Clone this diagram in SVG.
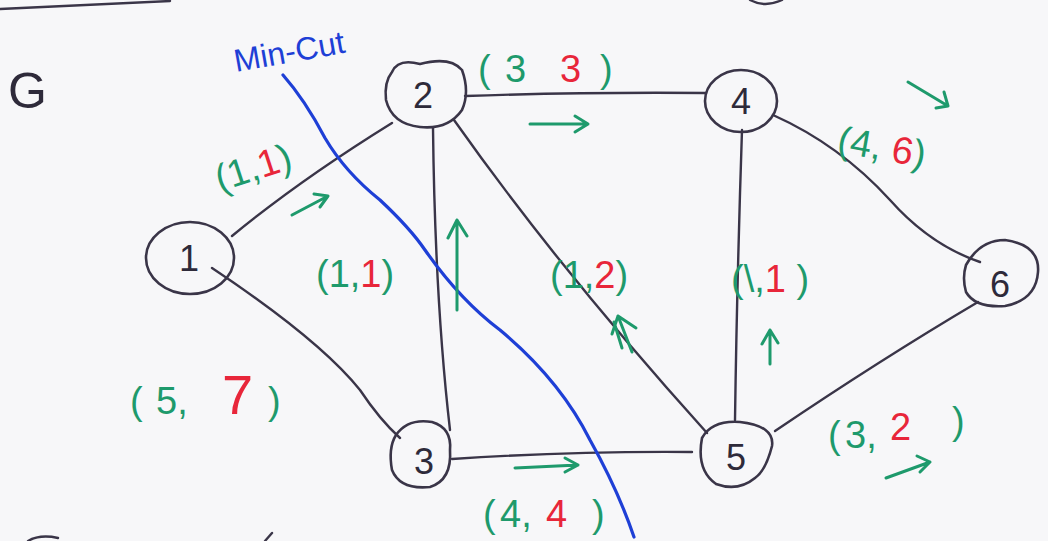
<svg xmlns="http://www.w3.org/2000/svg" width="1048" height="541" viewBox="0 0 1048 541">
<style>
.bg{fill:#f7f7f9}
.node{fill:none;stroke:#3a3548;stroke-width:2.6}
.edge{fill:none;stroke:#3a3548;stroke-width:2.4;stroke-linecap:round}
.num{font-family:"Liberation Sans",sans-serif;font-size:36px;fill:#2e2a3a;text-anchor:middle}
.g{font-family:"Liberation Sans",sans-serif;font-size:38px;fill:#1e9a6c}
.r{fill:#e8263a}
.arr{fill:none;stroke:#1e9a6c;stroke-width:3;stroke-linecap:round;stroke-linejoin:round}
.cut{fill:none;stroke:#1e3fd6;stroke-width:3.2;stroke-linecap:round}
</style>
<rect class="bg" width="1048" height="541"/>
<path class="edge" d="M0 9 L170 1"/>
<path class="edge" d="M750 0 Q765 8 782 0"/>
<path class="edge" d="M28 541 Q40 534 58 538"/>
<path class="edge" d="M265 541 L272 533"/>
<text x="8" y="108" font-family="Liberation Sans,sans-serif" font-size="50" fill="#2e2a3a">G</text>
<g id="connectors">
<path id="e12" class="edge" d="M232 236 Q300 180 392 123"/>
<path id="e13" class="edge" d="M212 268 Q320 340 360 390 Q380 420 400 438"/>
<path id="e23" class="edge" d="M433 128 Q435 300 450 430"/>
<path id="e24" class="edge" d="M465 96 Q580 92 706 93"/>
<path id="e25" class="edge" d="M454 120 Q560 270 707 433"/>
<path id="e35" class="edge" d="M452 459 Q570 451 692 452"/>
<path id="e45" class="edge" d="M742 130 Q737 280 735 420"/>
<path id="e46" class="edge" d="M773 115 Q840 145 890 200 Q930 245 980 262"/>
<path id="e56" class="edge" d="M775 431 Q880 360 978 302"/>
</g>
<g id="node1"><ellipse class="node" cx="190" cy="258" rx="44" ry="36"/><text class="num" x="189" y="271">1</text></g>
<g id="node2"><path class="node" d="M392 72 Q398 58 420 64 Q450 56 462 70 Q470 92 462 110 Q448 130 420 127 Q392 124 386 100 Q384 82 392 72Z"/><text class="num" x="423" y="108">2</text></g>
<g id="node3"><path class="node" d="M396 435 Q408 418 432 422 Q452 428 450 450 Q452 480 430 487 Q400 490 392 470 Q388 448 396 435Z"/><text class="num" x="424" y="474">3</text></g>
<g id="node4"><ellipse class="node" cx="741" cy="101" rx="36" ry="31"/><text class="num" x="741" y="114">4</text></g>
<g id="node5"><path class="node" d="M702 438 Q712 420 740 422 Q775 426 772 446 Q766 470 755 478 Q738 492 716 484 Q696 470 702 438Z"/><text class="num" x="736" y="470">5</text></g>
<g id="node6"><path class="node" d="M966 265 Q980 240 1005 240 Q1040 245 1038 272 Q1036 300 1005 306 Q975 308 966 292 Q962 278 966 265Z"/><text class="num" x="1000" y="297">6</text></g>
<g id="cut">
<path class="cut" d="M283 75 Q305 100 325 138 Q345 172 380 200 Q410 228 425 250 Q460 300 500 330 Q560 380 590 440 Q618 490 634 537"/>
<text x="236" y="72" font-family="Liberation Sans,sans-serif" font-size="32" fill="#1e3fd6" transform="rotate(-10 236 72)">Min-Cut</text>
</g>
<g id="labels">
<text class="g" x="220" y="192" transform="rotate(-18 220 192)">(1,<tspan class="r">1</tspan>)</text>
<text class="g" x="316" y="287">(1,<tspan class="r">1</tspan>)</text>
<text class="g" y="82"><tspan x="478">(</tspan><tspan x="505">3</tspan><tspan class="r" x="560">3</tspan><tspan x="600">)</tspan></text>
<text class="g" x="836" y="152" transform="rotate(10 836 152)">(4, <tspan class="r">6</tspan>)</text>
<text class="g" x="550" y="288">(1,<tspan class="r">2</tspan>)</text>
<text class="g" x="731" y="292">(\,<tspan class="r">1</tspan> )</text>
<text class="g" y="414" font-size="48"><tspan x="130">(</tspan><tspan x="156">5,</tspan><tspan class="r" x="222" font-size="56">7</tspan><tspan x="268">)</tspan></text>
<text class="g" y="527"><tspan x="483">(</tspan><tspan x="500">4,</tspan><tspan class="r" x="546">4</tspan><tspan x="592">)</tspan></text>
<text class="g" y="448"><tspan x="828">(</tspan><tspan x="845">3,</tspan><tspan class="r" x="890" dy="-8">2</tspan><tspan x="952" dy="-6">)</tspan></text>
</g>
<g id="flow-arrows">
<path class="arr" d="M292 215 L328 196 M314 194 L328 196 L320 207"/>
<path class="arr" d="M457 310 L457 220 M448 238 L457 220 L467 236"/>
<path class="arr" d="M530 124 L588 124 M575 116 L588 124 L575 132"/>
<path class="arr" d="M908 82 L948 106 M944 92 L948 106 L936 108"/>
<path class="arr" d="M632 352 L618 316 M612 334 L618 316 L636 328 M622 348 L614 322"/>
<path class="arr" d="M770 364 L770 330 M762 344 L770 330 L778 343"/>
<path class="arr" d="M515 468 L578 465 M565 458 L578 465 L565 472"/>
<path class="arr" d="M886 478 L930 462 M917 456 L930 462 L920 472"/>
</g>
</svg>
